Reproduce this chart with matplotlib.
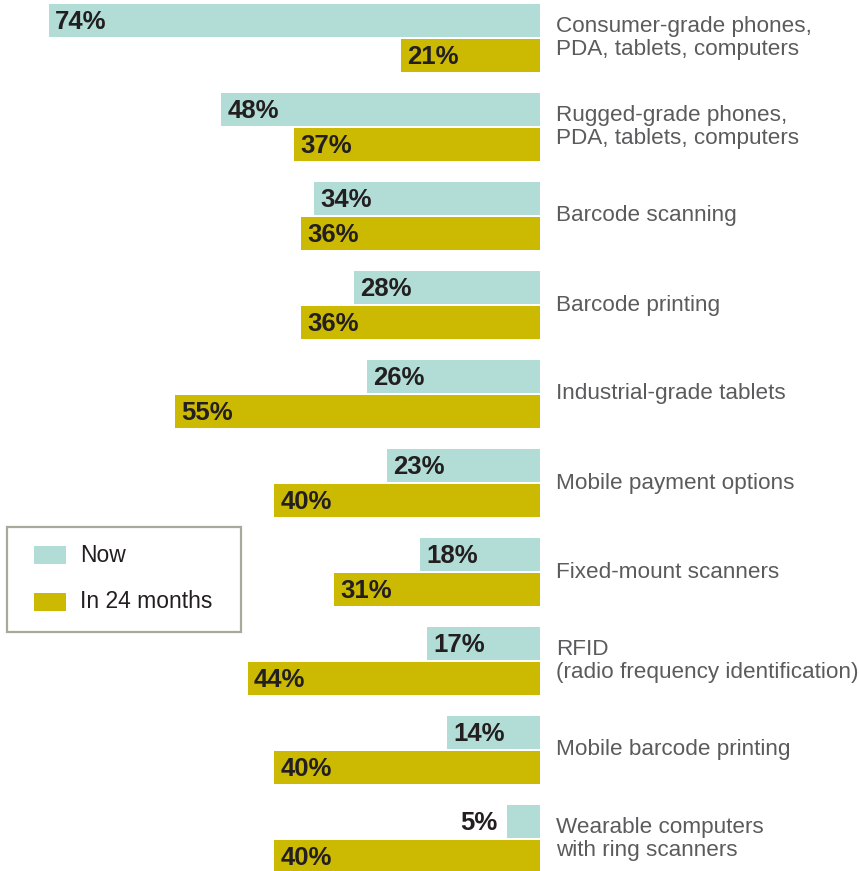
import matplotlib
matplotlib.use("Agg")
import matplotlib.pyplot as plt
from matplotlib.patches import Rectangle

categories = [
    "Consumer-grade phones,\nPDA, tablets, computers",
    "Rugged-grade phones,\nPDA, tablets, computers",
    "Barcode scanning",
    "Barcode printing",
    "Industrial-grade tablets",
    "Mobile payment options",
    "Fixed-mount scanners",
    "RFID\n(radio frequency identification)",
    "Mobile barcode printing",
    "Wearable computers\nwith ring scanners",
]
now = [74, 48, 34, 28, 26, 23, 18, 17, 14, 5]
in_24_months = [21, 37, 36, 36, 55, 40, 31, 44, 40, 40]
series_names = ["Now", "In 24 months"]

NOW_COLOR = "#b2ddd6"
LATER_COLOR = "#cbb902"
VALUE_COLOR = "#231f20"
LABEL_COLOR = "#5b5b5d"

plt.rcParams["font.family"] = ["Liberation Sans", "DejaVu Sans"]

W, H = 859, 871
fig = plt.figure(figsize=(W / 100, H / 100), dpi=100)
ax = fig.add_axes([0, 0, 540 / W, 1])

px_per_pct = 6.64
ax.set_xlim(540 / px_per_pct, 0)
ax.set_ylim((H - 38) / 89, -38 / 89)
ax.axis("off")

bar_h = 0.37
off = 0.197
for i, (cat, a, b) in enumerate(zip(categories, now, in_24_months)):
    ax.barh(i - off, a, height=bar_h, color=NOW_COLOR, linewidth=0)
    ax.barh(i + off, b, height=bar_h, color=LATER_COLOR, linewidth=0)

    for y, v in ((i - off, a), (i + off, b)):
        if v * px_per_pct > 60:
            ax.annotate(f"{v}%", xy=(v, y), xytext=(4.5, -1.2), textcoords="offset points",
                        ha="left", va="center", fontsize=18.5, fontweight="bold",
                        color=VALUE_COLOR)
        else:
            ax.annotate(f"{v}%", xy=(v, y), xytext=(-7, -1.2), textcoords="offset points",
                        ha="right", va="center", fontsize=18.5, fontweight="bold",
                        color=VALUE_COLOR)

    ax.annotate(cat, xy=(0, i), xytext=(11.5, 0), textcoords="offset points",
                ha="left", va="center", fontsize=16.2, color=LABEL_COLOR,
                linespacing=1.1, annotation_clip=False)


def fx(px):
    return px / W


def fy(py):
    return 1 - py / H


# legend box drawn in figure coordinates
fig.patches.append(Rectangle((fx(7), fy(632)), fx(234), 105 / H, transform=fig.transFigure,
                             facecolor="white", edgecolor="#a9a99b", linewidth=1.6))
for name, color, row in zip(series_names, [NOW_COLOR, LATER_COLOR], [555, 602]):
    fig.patches.append(Rectangle((fx(34), fy(row + 9)), fx(32), 18 / H,
                                 transform=fig.transFigure, facecolor=color, linewidth=0))
    fig.text(fx(80), fy(row), name, ha="left", va="center", fontsize=16.5,
             color=VALUE_COLOR)

fig.savefig("out.png", dpi=100)
